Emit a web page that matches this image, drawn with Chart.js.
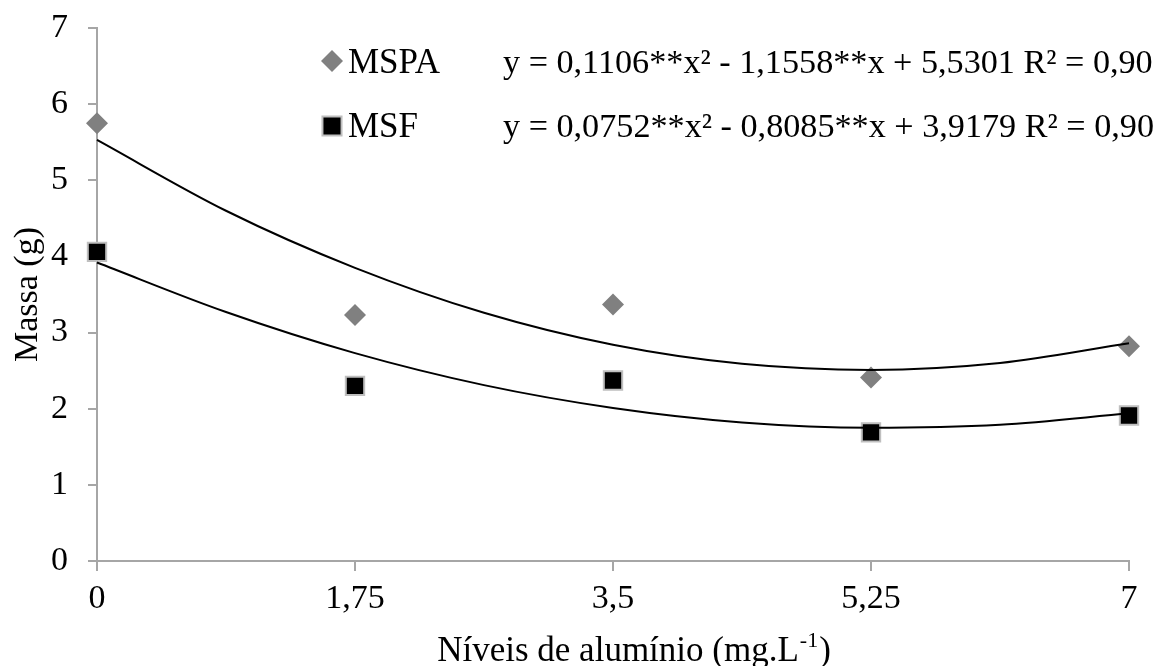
<!DOCTYPE html>
<html lang="pt">
<head>
<meta charset="utf-8">
<title>Massa seca - níveis de alumínio</title>
<script src="https://cdn.jsdelivr.net/npm/chart.js@4/dist/chart.umd.min.js"></script>
<style>
    body { margin: 0; background: #fff; }
    #wrap { width: 1158px; height: 666px; }
</style>
</head>
<body>
<div id="wrap"><canvas id="massChart" width="1158" height="666"></canvas></div>
<script>
// Níveis de alumínio (mg.L-1)
const niveis = [0, 1.75, 3.5, 5.25, 7];
const xTicks = [0, 1.75, 3.5, 5.25, 7];

// valores observados (g)
const mspa = [5.75, 3.23, 3.37, 2.41, 2.82];
const msf = [4.06, 2.30, 2.37, 1.69, 1.91];

// curvas ajustadas, lidas ao longo do eixo x
const curvaX = [0, 0.875, 1.75, 2.625, 3.5, 4.375, 5.25, 6.125, 7];
const curvaMspa = [5.53, 4.60, 3.85, 3.26, 2.84, 2.59, 2.51, 2.60, 2.86];
const curvaMsf = [3.92, 3.27, 2.73, 2.31, 2.01, 1.82, 1.75, 1.79, 1.94];

const equacoes = [
    'y = 0,1106**x² - 1,1558**x + 5,5301 R² = 0,90',
    'y = 0,0752**x² - 0,8085**x + 3,9179 R² = 0,90'
];

const FONTE = 'Liberation Serif, Times New Roman, serif';
const CINZA_EIXO = '#a6a6a6';

function pares(xs, ys) {
    return xs.map((x, i) => ({ x: x, y: ys[i] }));
}

const estiloMspa = { pointStyle: 'rectRot', radius: 11, backgroundColor: '#808080', borderColor: '#808080', borderWidth: 0 };
const estiloMsf = { pointStyle: 'rect', radius: 13, backgroundColor: '#000000', borderColor: '#bfbfbf', borderWidth: 2 };

// legenda com as equações, desenhada dentro da área do gráfico
const legendaEquacoes = {
    id: 'legendaEquacoes',
    afterDraw(chart) {
        const ctx = chart.ctx;
        const linhas = [
            { nome: 'MSPA', estilo: estiloMspa, centro: 61, base: 73 },
            { nome: 'MSF', estilo: estiloMsf, centro: 126, base: 137 }
        ];
        ctx.save();
        ctx.textBaseline = 'alphabetic';
        ctx.textAlign = 'left';
        linhas.forEach((l, i) => {
            ctx.fillStyle = l.estilo.backgroundColor;
            ctx.strokeStyle = l.estilo.borderColor;
            ctx.lineWidth = l.estilo.borderWidth;
            Chart.helpers.drawPoint(ctx, {
                pointStyle: l.estilo.pointStyle,
                radius: l.estilo.pointStyle === 'rect' ? 13.5 : 11,
                rotation: 0,
                borderWidth: l.estilo.borderWidth
            }, 332, l.centro);
            ctx.fillStyle = '#000';
            ctx.font = '35px ' + FONTE;
            ctx.fillText(l.nome, 348, l.base);
            ctx.font = '34.2px ' + FONTE;
            ctx.fillText(equacoes[i], 503, l.base);
        });

        // título do eixo x com expoente
        const base = 661;
        const parte1 = 'Níveis de alumínio (mg.L';
        const sup = '-1';
        const parte2 = ')';
        ctx.font = '35px ' + FONTE;
        const w1 = ctx.measureText(parte1).width;
        const w3 = ctx.measureText(parte2).width;
        ctx.font = '22px ' + FONTE;
        const w2 = ctx.measureText(sup).width;
        let x = 633 - (w1 + w2 + w3) / 2;
        ctx.font = '35px ' + FONTE;
        ctx.fillText(parte1, x, base);
        x += w1;
        ctx.font = '22px ' + FONTE;
        ctx.fillText(sup, x + 1, base - 14);
        x += w2 + 2;
        ctx.font = '35px ' + FONTE;
        ctx.fillText(parte2, x, base);
        ctx.restore();
    }
};

new Chart(document.getElementById('massChart'), {
    type: 'scatter',
    data: {
        datasets: [
            {
                label: 'MSPA',
                data: pares(niveis, mspa),
                pointStyle: estiloMspa.pointStyle,
                pointRadius: estiloMspa.radius,
                pointBackgroundColor: estiloMspa.backgroundColor,
                pointBorderColor: estiloMspa.borderColor,
                pointBorderWidth: estiloMspa.borderWidth,
                showLine: false,
                clip: false,
                order: 2
            },
            {
                label: 'MSF',
                data: pares(niveis, msf),
                pointStyle: estiloMsf.pointStyle,
                pointRadius: estiloMsf.radius,
                pointBackgroundColor: estiloMsf.backgroundColor,
                pointBorderColor: estiloMsf.borderColor,
                pointBorderWidth: estiloMsf.borderWidth,
                showLine: false,
                clip: false,
                order: 2
            },
            {
                label: 'Ajuste MSPA',
                data: pares(curvaX, curvaMspa),
                showLine: true,
                pointRadius: 0,
                borderColor: '#000',
                borderWidth: 2,
                cubicInterpolationMode: 'monotone',
                clip: false,
                order: 1
            },
            {
                label: 'Ajuste MSF',
                data: pares(curvaX, curvaMsf),
                showLine: true,
                pointRadius: 0,
                borderColor: '#000',
                borderWidth: 2,
                cubicInterpolationMode: 'monotone',
                clip: false,
                order: 1
            }
        ]
    },
    options: {
        responsive: false,
        animation: false,
        layout: { padding: { top: 28, right: 29, left: 0, bottom: 0 } },
        plugins: {
            legend: { display: false },
            tooltip: { enabled: false }
        },
        scales: {
            x: {
                type: 'linear',
                min: 0,
                max: 7,
                afterBuildTicks(scale) {
                    scale.ticks = xTicks.map(v => ({ value: v }));
                },
                afterFit(scale) { scale.height = 105; },
                grid: { drawOnChartArea: false, drawTicks: true, tickLength: 10, color: CINZA_EIXO, lineWidth: 2 },
                border: { color: CINZA_EIXO, width: 2 },
                ticks: {
                    color: '#000',
                    padding: 8,
                    maxRotation: 0,
                    font: { family: FONTE, size: 34 },
                    callback: v => String(v).replace('.', ',')
                }
            },
            y: {
                min: 0,
                max: 7,
                afterFit(scale) {
                    scale.width = 97;
                    scale.paddingTop = 0;
                    scale.paddingBottom = 0;
                },
                grid: { drawOnChartArea: false, drawTicks: true, tickLength: 9, color: CINZA_EIXO, lineWidth: 2 },
                border: { color: CINZA_EIXO, width: 2 },
                ticks: {
                    color: '#000',
                    stepSize: 1,
                    padding: 20,
                    font: { family: FONTE, size: 34 }
                },
                title: {
                    display: true,
                    text: 'Massa (g)',
                    color: '#000',
                    padding: { top: 8, bottom: 0 },
                    font: { family: FONTE, size: 34 }
                }
            }
        }
    },
    plugins: [legendaEquacoes]
});
</script>
</body>
</html>
